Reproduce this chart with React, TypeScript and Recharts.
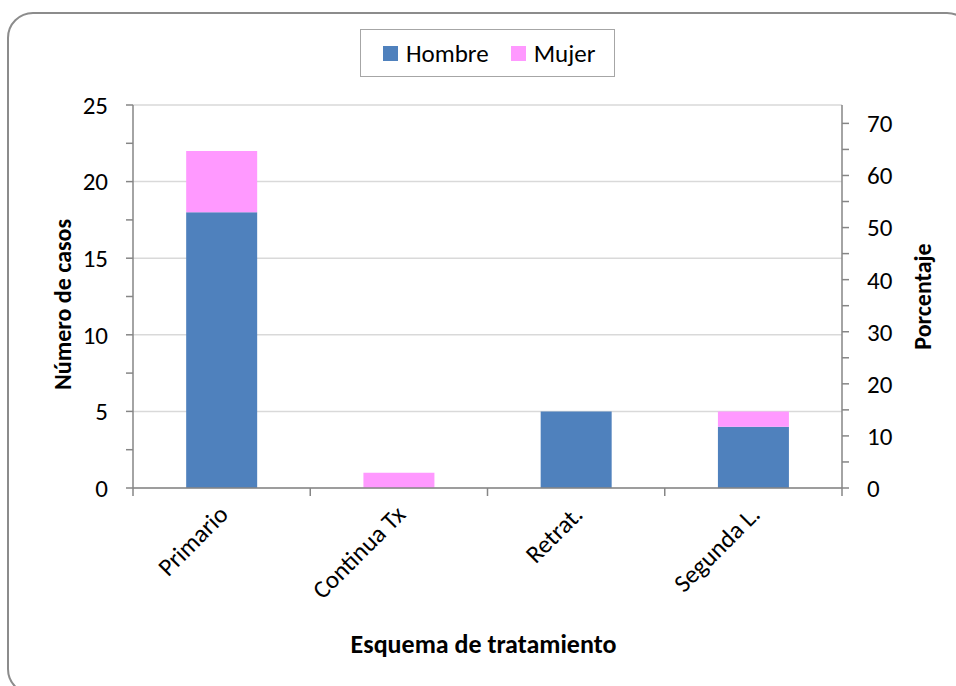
import React from 'react';
import { BarChart, Bar, XAxis, YAxis, CartesianGrid } from 'recharts';

const categories = ['Primario', 'Continua Tx', 'Retrat.', 'Segunda L.'];
const hombre = [18, 0, 5, 4];
const mujer = [4, 1, 0, 1];
const seriesNames = ['Hombre', 'Mujer'];
const seriesColors = ['#4F81BD', '#FF99FF'];
const leftTicks = [0, 2.5, 5, 7.5, 10, 12.5, 15, 17.5, 20, 22.5, 25];
const leftGrid = [0, 5, 10, 15, 20, 25];
const rightTicks = [0, 5, 10, 15, 20, 25, 30, 35, 40, 45, 50, 55, 60, 65, 70];
const rightMax = 73.53;
const leftTitle = 'Número de casos';
const rightTitle = 'Porcentaje';
const xTitle = 'Esquema de tratamiento';

const data = categories.map((c, i) => ({ name: c, hombre: hombre[i], mujer: mujer[i] }));

const FONT = 'Carlito, Lato, "Open Sans", sans-serif';
const AXIS = '#868686';
const TICK_FS = 25;
const TITLE_FS = 25;

const XTick = (props: any) => {
  const { x, y, payload, width, visibleTicksCount, index } = props;
  const half = width / (2 * visibleTicksCount);
  const isLast = index === visibleTicksCount - 1;
  const ty = y + 22;
  const tx = x + 2;
  return (
    <g>
      <line x1={x - half} x2={x - half} y1={y} y2={y + 8} stroke={AXIS} strokeWidth={1.5} />
      {isLast && <line x1={x + half} x2={x + half} y1={y} y2={y + 8} stroke={AXIS} strokeWidth={1.5} />}
      <text
        x={tx}
        y={ty}
        textAnchor="end"
        dominantBaseline="central"
        transform={`rotate(-45, ${tx}, ${ty})`}
        fontSize={TICK_FS}
        fontFamily={FONT}
        fill="#000"
      >
        {payload.value}
      </text>
    </g>
  );
};

const leftFmt = (v: number) => (v % 5 === 0 ? String(v) : '');
const rightFmt = (v: number) => (v % 10 === 0 ? String(v) : '');

export default function App() {
  return (
    <div style={{ position: 'fixed', left: 0, top: 0, width: 956, height: 686, overflow: 'hidden', background: '#fff' }}>
      <div
        style={{
          position: 'absolute',
          left: 7,
          top: 12,
          width: 966,
          height: 683,
          border: '2px solid #8c8c8c',
          borderRadius: 26,
          boxSizing: 'border-box',
        }}
      />
      <div style={{ position: 'absolute', left: 0, top: 0 }}>
        <BarChart
          width={956}
          height={686}
          data={data}
          margin={{ top: 105, right: 54, left: 73, bottom: 168 }}
          barCategoryGap="30%"
        >
          <CartesianGrid
            yAxisId="left"
            vertical={false}
            horizontalValues={leftGrid}
            stroke="#d9d9d9"
            strokeWidth={1.5}
          />
          <XAxis
            dataKey="name"
            xAxisId="cat"
            height={30}
            tickLine={false}
            tickSize={0}
            tickMargin={0}
            axisLine={{ stroke: AXIS, strokeWidth: 1.5 }}
            tick={<XTick />}
            interval={0}
            label={{
              value: xTitle,
              content: (p: any) => (
                <text
                  x={p.viewBox.x + p.viewBox.width / 2 - 4}
                  y={644}
                  textAnchor="middle"
                  dominantBaseline="central"
                  fontSize={26}
                  fontWeight="bold"
                  fontFamily={FONT}
                  fill="#000"
                >
                  {xTitle}
                </text>
              ),
            }}
          />
          <YAxis
            yAxisId="left"
            orientation="left"
            width={60}
            domain={[0, 25]}
            ticks={leftTicks}
            interval={0}
            tickFormatter={leftFmt}
            tickSize={7}
            tickMargin={18}
            tickLine={{ stroke: AXIS, strokeWidth: 1.5 }}
            axisLine={{ stroke: AXIS, strokeWidth: 1.5 }}
            tick={{ fontSize: TICK_FS, fontFamily: FONT, fill: '#000' }}
            label={{
              value: leftTitle,
              content: (p: any) => {
                const cx = 62;
                const cy = p.viewBox.y + p.viewBox.height / 2 + 8;
                return (
                  <text
                    x={cx}
                    y={cy}
                    textAnchor="middle"
                    dominantBaseline="central"
                    transform={`rotate(-90, ${cx}, ${cy})`}
                    fontSize={TITLE_FS - 1}
                    fontWeight="bold"
                    fontFamily={FONT}
                    fill="#000"
                  >
                    {leftTitle}
                  </text>
                );
              },
            }}
          />
          <YAxis
            yAxisId="right"
            orientation="right"
            width={60}
            type="number"
            domain={[0, rightMax]}
            allowDataOverflow
            ticks={rightTicks}
            interval={0}
            tickFormatter={rightFmt}
            tickSize={7}
            tickMargin={18}
            tickLine={{ stroke: AXIS, strokeWidth: 1.5 }}
            axisLine={{ stroke: AXIS, strokeWidth: 1.5 }}
            tick={{ fontSize: TICK_FS, fontFamily: FONT, fill: '#000', textAnchor: 'start' }}
            label={{
              value: rightTitle,
              content: (p: any) => {
                const cx = 922;
                const cy = p.viewBox.y + p.viewBox.height / 2;
                return (
                  <text
                    x={cx}
                    y={cy}
                    textAnchor="middle"
                    dominantBaseline="central"
                    transform={`rotate(-90, ${cx}, ${cy})`}
                    fontSize={TITLE_FS - 1}
                    fontWeight="bold"
                    fontFamily={FONT}
                    fill="#000"
                  >
                    {rightTitle}
                  </text>
                );
              },
            }}
          />
          <Bar xAxisId="cat" yAxisId="left" dataKey="hombre" name={seriesNames[0]} stackId="a" fill={seriesColors[0]} isAnimationActive={false} />
          <Bar xAxisId="cat" yAxisId="left" dataKey="mujer" name={seriesNames[1]} stackId="a" fill={seriesColors[1]} isAnimationActive={false} />
        </BarChart>
      </div>
      <div
        style={{
          position: 'absolute',
          left: 360,
          top: 29,
          width: 255,
          height: 48,
          border: '1.5px solid #a6a6a6',
          boxSizing: 'border-box',
          display: 'flex',
          alignItems: 'center',
          paddingLeft: 22,
          fontFamily: FONT,
          fontSize: TICK_FS,
          color: '#000',
          whiteSpace: 'nowrap',
        }}
      >
        {seriesNames.map((n, i) => (
          <div key={n} style={{ display: 'flex', alignItems: 'center', marginRight: 22 }}>
            <span style={{ display: 'inline-block', width: 15, height: 15, background: seriesColors[i], marginRight: 8 }} />
            <span>{n}</span>
          </div>
        ))}
      </div>
    </div>
  );
}
